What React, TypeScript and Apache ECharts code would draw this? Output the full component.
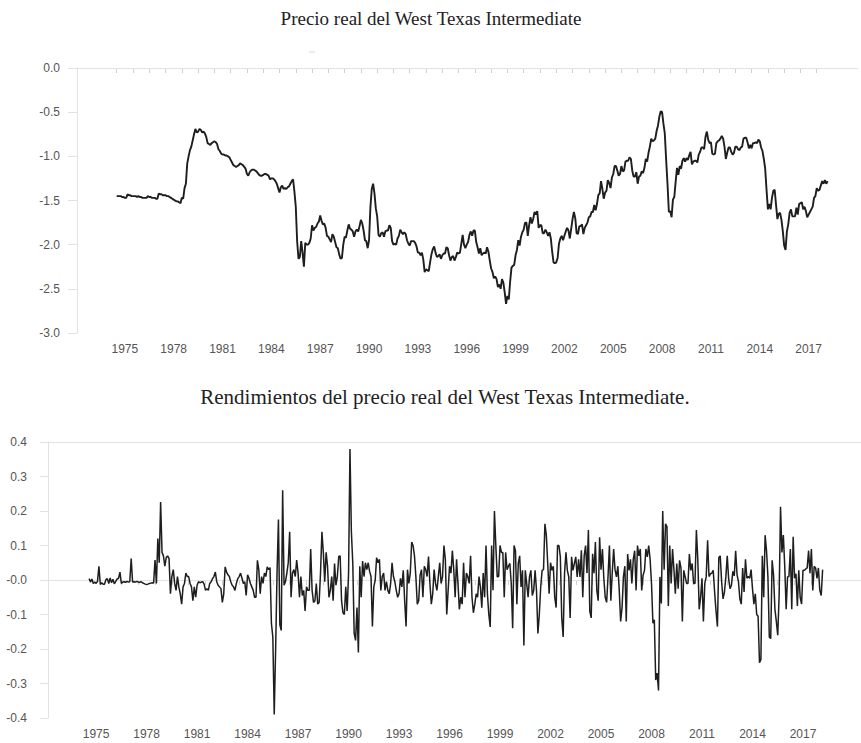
import React, { useEffect, useRef } from "react";
import * as echarts from "echarts";

// ---------- DATA ----------
const START_YEAR = 1975;

// Log real WTI price, monthly, Jan 1975 .. Sep 2018
const priceLog: number[] = [
  -1.45,-1.45,-1.45,-1.45,-1.46,-1.46,-1.47,-1.47,-1.43,-1.44,-1.44,-1.45,
  -1.45,-1.45,-1.45,-1.46,-1.45,-1.46,-1.46,-1.47,-1.47,-1.47,-1.47,-1.45,
  -1.46,-1.46,-1.47,-1.47,-1.47,-1.48,-1.48,-1.42,-1.43,-1.43,-1.44,-1.44,
  -1.44,-1.45,-1.45,-1.46,-1.47,-1.48,-1.49,-1.50,-1.51,-1.51,-1.52,-1.53,
  -1.47,-1.48,-1.36,-1.31,-1.08,-1.00,-0.93,-0.89,-0.82,-0.75,-0.69,-0.73,
  -0.72,-0.69,-0.70,-0.73,-0.72,-0.74,-0.78,-0.85,-0.86,-0.87,-0.85,-0.84,
  -0.83,-0.84,-0.86,-0.92,-0.94,-0.97,-0.98,-0.98,-0.99,-0.99,-1.00,-1.01,
  -1.04,-1.07,-1.10,-1.11,-1.12,-1.11,-1.10,-1.08,-1.09,-1.10,-1.12,-1.14,
  -1.20,-1.22,-1.18,-1.16,-1.15,-1.15,-1.16,-1.17,-1.19,-1.21,-1.22,-1.22,
  -1.21,-1.20,-1.20,-1.21,-1.22,-1.26,-1.25,-1.25,-1.26,-1.28,-1.31,-1.36,
  -1.41,-1.35,-1.33,-1.37,-1.36,-1.37,-1.35,-1.34,-1.31,-1.28,-1.26,-1.40,
  -1.57,-1.96,-2.16,-2.14,-1.96,-2.09,-2.25,-1.98,-2.00,-2.00,-1.98,-1.93,
  -1.78,-1.84,-1.81,-1.80,-1.76,-1.74,-1.67,-1.73,-1.77,-1.76,-1.81,-1.90,
  -1.91,-1.94,-1.97,-1.88,-1.91,-1.97,-2.03,-2.04,-2.11,-2.16,-2.15,-2.00,
  -1.91,-1.92,-1.84,-1.77,-1.82,-1.83,-1.85,-1.91,-1.85,-1.83,-1.85,-1.79,
  -1.72,-1.76,-1.84,-1.95,-1.96,-2.04,-1.95,-1.58,-1.37,-1.31,-1.42,-1.59,
  -1.68,-1.89,-1.91,-1.87,-1.86,-1.91,-1.85,-1.84,-1.84,-1.78,-1.81,-1.96,
  -2.00,-1.99,-2.00,-1.93,-1.90,-1.83,-1.86,-1.88,-1.86,-1.88,-1.95,-1.99,
  -2.01,-1.96,-1.96,-1.96,-1.98,-2.02,-2.09,-2.09,-2.12,-2.09,-2.17,-2.31,
  -2.28,-2.29,-2.30,-2.20,-2.11,-2.05,-2.02,-2.09,-2.14,-2.13,-2.11,-2.16,
  -2.12,-2.10,-2.10,-2.03,-2.04,-2.12,-2.18,-2.14,-2.13,-2.18,-2.14,-2.09,
  -2.10,-2.09,-1.99,-1.89,-2.00,-2.04,-2.00,-1.97,-1.89,-1.85,-1.90,-1.84,
  -1.84,-1.97,-2.03,-2.10,-2.04,-2.12,-2.10,-2.09,-2.10,-2.03,-2.08,-2.18,
  -2.27,-2.31,-2.38,-2.36,-2.39,-2.48,-2.45,-2.50,-2.39,-2.43,-2.54,-2.67,
  -2.58,-2.62,-2.42,-2.26,-2.24,-2.23,-2.12,-2.06,-1.95,-2.01,-1.91,-1.86,
  -1.83,-1.75,-1.75,-1.90,-1.78,-1.69,-1.76,-1.71,-1.63,-1.66,-1.62,-1.81,
  -1.78,-1.78,-1.87,-1.87,-1.83,-1.86,-1.90,-1.86,-1.93,-2.08,-2.20,-2.21,
  -2.20,-2.15,-1.99,-1.93,-1.90,-1.95,-1.90,-1.85,-1.81,-1.84,-1.93,-1.82,
  -1.71,-1.63,-1.70,-1.87,-1.88,-1.79,-1.79,-1.77,-1.88,-1.81,-1.78,-1.75,
  -1.69,-1.68,-1.63,-1.63,-1.55,-1.61,-1.54,-1.44,-1.42,-1.28,-1.37,-1.48,
  -1.41,-1.39,-1.27,-1.30,-1.36,-1.24,-1.20,-1.11,-1.11,-1.16,-1.22,-1.20,
  -1.11,-1.17,-1.16,-1.06,-1.05,-1.05,-1.01,-1.03,-1.16,-1.23,-1.23,-1.18,
  -1.31,-1.23,-1.22,-1.17,-1.19,-1.13,-1.03,-1.06,-0.96,-0.89,-0.80,-0.83,
  -0.82,-0.80,-0.71,-0.65,-0.55,-0.49,-0.50,-0.63,-0.74,-1.04,-1.31,-1.63,
  -1.62,-1.69,-1.49,-1.46,-1.29,-1.13,-1.21,-1.11,-1.14,-1.05,-1.02,-1.06,
  -1.02,-1.04,-0.99,-0.95,-1.09,-1.06,-1.05,-1.05,-1.07,-0.98,-0.95,-0.90,
  -0.90,-0.92,-0.78,-0.72,-0.81,-0.85,-0.84,-0.97,-0.98,-0.97,-0.85,-0.83,
  -0.82,-0.80,-0.77,-0.80,-0.89,-1.03,-0.96,-0.90,-0.90,-0.95,-0.98,-0.96,
  -0.89,-0.89,-0.92,-0.93,-0.90,-0.89,-0.80,-0.79,-0.79,-0.84,-0.91,-0.87,
  -0.91,-0.85,-0.85,-0.84,-0.85,-0.81,-0.83,-0.90,-0.94,-1.03,-1.14,-1.38,
  -1.60,-1.54,-1.60,-1.47,-1.39,-1.38,-1.55,-1.71,-1.65,-1.64,-1.72,-1.85,
  -2.01,-2.06,-1.85,-1.77,-1.64,-1.60,-1.68,-1.68,-1.68,-1.58,-1.66,-1.54,
  -1.53,-1.52,-1.60,-1.57,-1.62,-1.69,-1.66,-1.63,-1.60,-1.57,-1.47,-1.45,
  -1.36,-1.39,-1.38,-1.33,-1.28,-1.31,-1.27,-1.31,-1.28,
];

// Monthly log returns, Feb 1975 .. Sep 2018
const returnsLog: number[] = [
  0.004,-0.006,0.003,-0.01,-0.006,-0.01,-0.004,0.04,-0.013,-0.008,-0.012,
  -0.012,0.001,0.004,-0.01,0.006,-0.008,0.002,-0.011,-0.004,0.003,0.005,0.023,
  -0.01,-0.006,-0.005,-0.007,-0.004,-0.006,-0.005,0.062,-0.006,-0.005,-0.006,-0.004,
  -0.006,-0.007,-0.005,-0.008,-0.01,-0.012,-0.013,-0.012,-0.01,-0.009,-0.008,-0.009,
  0.058,-0.01,0.12,0.05,0.226,0.08,0.07,0.04,0.065,0.07,0.062,-0.04,
  0.01,0.03,-0.01,-0.03,0.01,-0.02,-0.04,-0.07,-0.02,-0.01,0.02,0.01,
  0.01,-0.01,-0.02,-0.06,-0.02,-0.05,-0.015,-0.005,-0.008,-0.006,-0.005,-0.012,
  -0.03,-0.025,-0.03,-0.01,-0.005,0.004,0.01,0.023,-0.005,-0.015,-0.02,-0.025,
  -0.065,-0.04,0.038,0.023,0.015,0.01,-0.005,-0.015,-0.02,-0.03,-0.01,0.004,
  0.01,0.02,0.005,-0.01,-0.005,-0.045,0.015,0.005,-0.01,-0.02,-0.03,-0.05,
  -0.05,0.057,0.03,-0.04,0.01,-0.01,0.02,0.01,0.038,0.03,0.036,-0.126,
  -0.165,-0.39,-0.2,0.02,0.175,-0.13,-0.146,0.26,-0.015,-0.005,0.02,0.05,
  0.14,-0.05,0.02,0.03,0.01,0.058,0.02,-0.05,0.01,-0.045,-0.03,-0.09,
  -0.02,-0.03,-0.03,0.09,-0.03,-0.065,-0.06,-0.01,-0.07,-0.065,0.02,0.14,
  0.08,-0.005,0.08,0.04,-0.05,-0.03,0.01,-0.06,0.048,-0.015,0.01,0.068,
  0.07,-0.06,-0.095,-0.1,-0.02,-0.09,0.02,0.38,0.14,0.05,-0.155,-0.175,
  -0.08,-0.21,0.04,-0.05,0.055,0.01,0.05,0.03,0.05,0.025,0.01,-0.135,
  -0.02,0.0,0.065,0.05,0.06,-0.03,0.01,0.02,-0.03,-0.005,-0.03,-0.04,
  -0.01,0.05,0.01,-0.005,-0.03,-0.05,-0.04,0.005,-0.02,0.028,-0.06,-0.135,
  0.03,-0.01,0.02,0.11,0.1,0.07,0.009,-0.07,-0.06,0.014,0.03,-0.05,
  0.04,0.03,0.01,0.068,-0.01,-0.07,-0.04,0.03,-0.01,-0.03,0.01,0.05,
  -0.01,0.01,0.1,0.06,-0.1,-0.03,0.04,0.02,0.085,0.03,-0.05,0.06,
  -0.01,-0.085,-0.05,-0.07,0.05,-0.05,0.02,0.01,-0.01,0.07,-0.05,-0.095,
  -0.07,-0.04,-0.05,0.01,-0.02,-0.08,0.02,-0.05,0.1,-0.04,-0.1,-0.136,
  0.1,-0.03,0.2,0.1,0.009,0.01,0.1,0.08,0.08,-0.05,0.08,0.03,
  0.04,0.048,-0.01,-0.14,0.1,0.085,-0.07,0.048,0.07,-0.02,0.028,-0.19,
  0.028,-0.01,-0.05,0.009,0.028,-0.045,-0.03,0.028,-0.03,-0.155,-0.1,-0.02,
  0.028,0.03,0.163,0.13,0.048,-0.04,0.05,0.028,0.04,-0.05,-0.08,0.1,
  0.1,0.067,-0.11,-0.165,0.02,0.08,0.028,0.009,-0.11,0.067,0.028,0.048,
  0.067,0.009,0.06,0.009,0.086,-0.05,0.07,0.1,0.02,0.145,-0.09,-0.11,
  0.076,0.02,0.11,-0.03,-0.06,0.124,0.03,0.09,0.005,-0.05,-0.065,0.01,
  0.1,-0.06,0.02,0.09,0.03,0.009,0.04,-0.03,-0.12,-0.08,0.01,0.04,
  -0.12,0.075,0.028,0.06,-0.01,0.06,0.085,-0.03,0.1,0.07,0.09,-0.03,
  0.014,0.028,0.09,0.067,0.1,0.06,-0.01,-0.125,-0.115,-0.29,-0.27,-0.32,
  0.009,-0.068,0.2,0.03,0.163,0.155,-0.075,0.1,-0.01,0.09,0.03,-0.04,
  0.048,-0.025,0.057,0.035,-0.12,0.028,0.009,-0.01,-0.01,0.075,0.028,0.048,
  -0.01,-0.01,0.145,0.06,-0.085,-0.05,0.005,-0.12,-0.01,0.009,0.115,0.01,
  0.018,0.02,0.028,-0.035,-0.09,-0.135,0.065,0.07,-0.005,-0.055,-0.035,0.009,
  0.07,0.003,-0.025,-0.015,0.025,0.012,0.085,0.015,-0.005,-0.055,-0.07,0.035,
  -0.035,0.06,0.005,0.01,0.005,0.03,-0.025,-0.07,-0.04,-0.1,-0.105,-0.24,
  -0.23,0.07,-0.05,0.13,0.085,0.01,-0.165,-0.17,0.057,0.015,-0.085,-0.12,
  -0.16,-0.045,0.212,0.08,0.13,0.04,-0.085,0.009,0.01,0.09,-0.085,0.125,
  0.005,0.018,-0.075,0.028,-0.05,-0.07,0.028,0.028,0.032,0.035,0.085,0.02,
  0.09,-0.03,0.04,0.035,0.005,0.035,-0.03,-0.045,0.03,
];

const labelYears: number[] = [1975, 1978, 1981, 1984, 1987, 1990, 1993, 1996, 1999, 2002, 2005, 2008, 2011, 2014, 2017];
const topTickYears: number[] = [];
for (let y = 1975; y <= 2018; y++) topTickYears.push(y);
const bottomTickYears: number[] = [];
for (let y = 1976; y <= 2018; y++) bottomTickYears.push(y);

const titleTop = "Precio real del West Texas Intermediate";
const titleBottom = "Rendimientos del precio real del West Texas Intermediate.";

// ---------- COMPONENT ----------
export default function App() {
  const ref = useRef<HTMLDivElement>(null);

  useEffect(() => {
    if (!ref.current) return;
    const chart = echarts.init(ref.current, undefined, { renderer: "svg" });

    const priceData = priceLog.map((v, i) => [START_YEAR + i / 12, v]);
    const returnData = returnsLog.map((v, i) => [START_YEAR + (i + 1) / 12, v]);

    const axisGray = "#e2e2e2";
    const labelColor = "#555";
    const labelFont = "Liberation Sans";

    const xCommon = (ticks: number[]) => ({
      type: "value",
      axisLine: { show: true, lineStyle: { color: axisGray, width: 1 } },
      axisTick: { show: true, customValues: ticks, length: 5, lineStyle: { color: "#d0d0d0" } },
      axisLabel: {
        show: true,
        customValues: labelYears.map((y) => y + 0.5),
        formatter: (v: number) => String(Math.floor(v + 1e-6)),
        color: labelColor,
        fontSize: 12,
        fontFamily: labelFont,
        margin: 10,
      },
      splitLine: { show: false },
    });

    const option: any = {
      animation: false,
      backgroundColor: "#ffffff",
      grid: [
        { left: 77, top: 68, width: 781, height: 265 },
        { left: 48, top: 442, width: 813, height: 276 },
      ],
      xAxis: [
        { ...xCommon(topTickYears), gridIndex: 0, min: 1972.5614, max: 2020.5344 },
        { ...xCommon(bottomTickYears), gridIndex: 1, min: 1972.6411, max: 2020.9474 },
      ],
      yAxis: [
        {
          type: "value",
          gridIndex: 0,
          min: -3,
          max: 0,
          interval: 0.5,
          axisLine: { show: true, lineStyle: { color: axisGray } },
          axisTick: { show: true, length: 9, lineStyle: { color: axisGray } },
          axisLabel: {
            color: labelColor,
            fontSize: 12,
            fontFamily: labelFont,
            margin: 17,
            formatter: (v: number) => (Math.abs(v) < 1e-9 ? "0.0" : v.toFixed(1)),
          },
          splitLine: { show: false },
        },
        {
          type: "value",
          gridIndex: 1,
          min: -0.4,
          max: 0.4,
          interval: 0.1,
          axisLine: { show: true, lineStyle: { color: axisGray } },
          axisTick: { show: true, length: 8, lineStyle: { color: axisGray } },
          axisLabel: {
            color: labelColor,
            fontSize: 12,
            fontFamily: labelFont,
            margin: 21,
            formatter: (v: number) => (Math.abs(v) < 1e-9 ? "-0.0" : v.toFixed(1)),
          },
          splitLine: { show: false },
        },
      ],
      graphic: [
        {
          type: "text",
          x: 431,
          y: 18,
          style: {
            text: titleTop,
            fontSize: 19,
            fontFamily: "Liberation Serif",
            fill: "#222",
            align: "center",
            verticalAlign: "middle",
          },
        },
        {
          type: "text",
          x: 445,
          y: 397,
          style: {
            text: titleBottom,
            fontSize: 21,
            fontFamily: "Liberation Serif",
            fill: "#222",
            align: "center",
            verticalAlign: "middle",
          },
        },
        {
          type: "line",
          shape: { x1: 309, y1: 52, x2: 315, y2: 52 },
          style: { stroke: "#d8d8d8", lineWidth: 1 },
        },
      ],
      series: [
        {
          type: "line",
          xAxisIndex: 0,
          yAxisIndex: 0,
          data: priceData,
          showSymbol: false,
          lineStyle: { color: "#1e1e1e", width: 1.9 },
          markLine: {
            silent: true,
            symbol: ["none", "none"],
            label: { show: false },
            lineStyle: { color: axisGray, type: "solid", width: 1 },
            data: [{ yAxis: 0 }],
          },
          z: 3,
        },
        {
          type: "line",
          xAxisIndex: 1,
          yAxisIndex: 1,
          data: returnData,
          showSymbol: false,
          lineStyle: { color: "#1e1e1e", width: 1.5 },
          markLine: {
            silent: true,
            symbol: ["none", "none"],
            label: { show: false },
            lineStyle: { color: axisGray, type: "solid", width: 1 },
            data: [{ yAxis: 0.4 }, { yAxis: 0 }],
            z: 1,
          },
          z: 3,
        },
      ],
    };

    chart.setOption(option);
    return () => chart.dispose();
  }, []);

  return (
    <div
      ref={ref}
      style={{ position: "absolute", left: 0, top: 0, width: 861, height: 743, background: "#fff" }}
    />
  );
}
